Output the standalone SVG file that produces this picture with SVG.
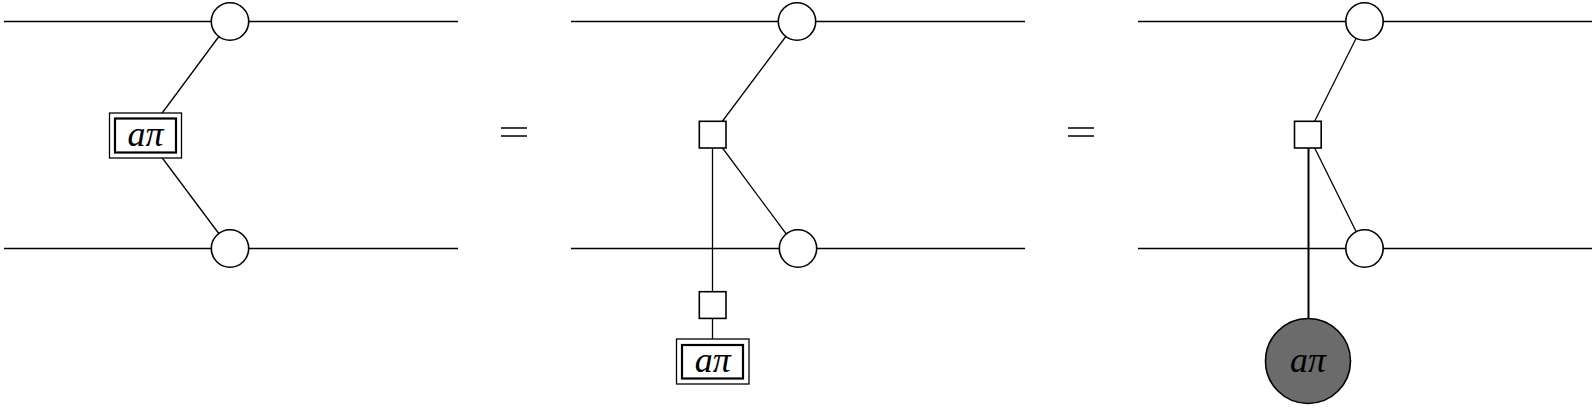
<svg xmlns="http://www.w3.org/2000/svg" width="1596" height="408" viewBox="0 0 1596 408">
<style>
.w{stroke:#000;stroke-width:1.3;fill:none}
.w2{stroke:#000;stroke-width:2;fill:none}
.c{fill:#fff;stroke:#000;stroke-width:1.6}
.sq{fill:#fff;stroke:#000;stroke-width:1.6}
.bo{fill:#fff;stroke:#000;stroke-width:1.3}
.bi{fill:none;stroke:#000;stroke-width:2.2}
.t{font-family:"Liberation Serif","DejaVu Serif",serif;font-style:italic;font-size:36px;text-anchor:middle;fill:#000}
.eq{stroke:#000;stroke-width:1.5}
</style>
<rect width="1596" height="408" fill="#fff"/>
<g id="connectors">
<line class="w" x1="4" y1="21.5" x2="458" y2="21.5"/>
<line class="w" x1="4" y1="248.5" x2="458" y2="248.5"/>
<line class="w" x1="230" y1="21.5" x2="145.5" y2="135.5"/>
<line class="w" x1="145.5" y1="135.5" x2="230" y2="248.5"/>
<line class="w" x1="571" y1="21.5" x2="1025" y2="21.5"/>
<line class="w" x1="571" y1="248.5" x2="1025" y2="248.5"/>
<line class="w" x1="797" y1="21.5" x2="712.5" y2="134.5"/>
<line class="w" x1="712.5" y1="134.5" x2="797" y2="248.5"/>
<line class="w" x1="712.5" y1="134.5" x2="712.5" y2="361.5"/>
<line class="w" x1="1138" y1="21.5" x2="1592" y2="21.5"/>
<line class="w" x1="1138" y1="248.5" x2="1592" y2="248.5"/>
<line class="w" x1="1364.5" y1="21.5" x2="1308" y2="134.5"/>
<line class="w" x1="1308" y1="134.5" x2="1364.5" y2="248.5"/>
<line class="w2" x1="1308.5" y1="134.5" x2="1308.5" y2="330"/>
</g>
<g id="p1-top"><circle class="c" cx="230" cy="21.5" r="18.7"/></g>
<g id="p1-bot"><circle class="c" cx="230" cy="248.5" r="18.7"/></g>
<g id="p1-box">
<rect class="bo" x="109.5" y="113" width="72" height="45"/>
<rect class="bi" x="115" y="118.5" width="61" height="34"/>
<text class="t" x="145.5" y="146">aπ</text>
</g>
<g id="eq1"><line class="eq" x1="501" y1="128" x2="527" y2="128"/><line class="eq" x1="501" y1="136" x2="527" y2="136"/></g>
<g id="p2-top"><circle class="c" cx="797" cy="21.5" r="18.7"/></g>
<g id="p2-bot"><circle class="c" cx="798" cy="248.5" r="18.7"/></g>
<g id="p2-sq1"><rect class="sq" x="699.3" y="121.3" width="26.7" height="26.7"/></g>
<g id="p2-sq2"><rect class="sq" x="699.3" y="291.7" width="26.7" height="26.7"/></g>
<g id="p2-box">
<rect class="bo" x="676.5" y="339" width="72.5" height="45"/>
<rect class="bi" x="682" y="345" width="61" height="33.5"/>
<text class="t" x="712.7" y="372">aπ</text>
</g>
<g id="eq2"><line class="eq" x1="1068" y1="128" x2="1094" y2="128"/><line class="eq" x1="1068" y1="136" x2="1094" y2="136"/></g>
<g id="p3-top"><circle class="c" cx="1364.5" cy="21.5" r="18.7"/></g>
<g id="p3-bot"><circle class="c" cx="1364.5" cy="248.5" r="18.7"/></g>
<g id="p3-sq"><rect class="sq" x="1294.5" y="121.3" width="26.7" height="26.7"/></g>
<g id="p3-gray">
<circle cx="1308" cy="361" r="42.5" fill="#6b6b6b" stroke="#000" stroke-width="1.6"/>
<text class="t" x="1308" y="372">aπ</text>
</g>
</svg>
